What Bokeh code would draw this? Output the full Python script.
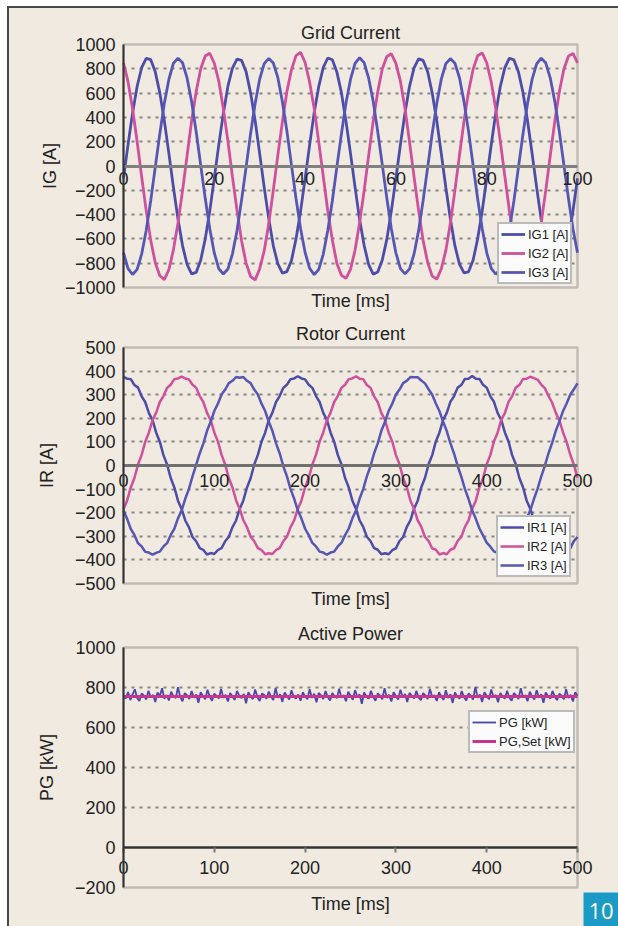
from bokeh.plotting import figure
from bokeh.models import (FixedTicker, Legend, LegendItem, Label, Range1d, BoxAnnotation, Grid)
from bokeh.layouts import column
from bokeh.embed import file_html
from bokeh.resources import INLINE

FONT = "Liberation Sans"
BG = "#f0eae0"
TXT = "#222222"
BLUE1 = "#4d4da8"
BLUE3 = "#5656b4"
PINK = "#d0509c"
PGSET = "#c8368f"

# ---------------- Grid current (ms, A) ----------------
T_GRID = [0, 1, 2, 3, 4, 5, 6, 7, 8, 9, 10, 11, 12, 13, 14, 15, 16, 17, 18, 19,
          20, 21, 22, 23, 24, 25, 26, 27, 28, 29, 30, 31, 32, 33, 34, 35, 36, 37, 38, 39,
          40, 41, 42, 43, 44, 45, 46, 47, 48, 49, 50, 51, 52, 53, 54, 55, 56, 57, 58, 59,
          60, 61, 62, 63, 64, 65, 66, 67, 68, 69, 70, 71, 72, 73, 74, 75, 76, 77, 78, 79,
          80, 81, 82, 83, 84, 85, 86, 87, 88, 89, 90, 91, 92, 93, 94, 95, 96, 97, 98, 99, 100]
IG1 = [-102, 176, 437, 655, 809, 886, 875, 775, 602, 371, 102, -176, -437, -655, -809, -888, -876, -775, -602, -371,
       -100, 178, 435, 657, 806, 880, 870, 777, 600, 373, 100, -178, -435, -657, -806, -882, -869, -777, -600, -373,
       -104, 174, 439, 653, 811, 889, 874, 773, 604, 369, 104, -174, -439, -653, -811, -890, -873, -773, -604, -369,
       -101, 177, 436, 656, 808, 882, 869, 776, 601, 372, 101, -177, -436, -656, -808, -879, -871, -776, -601, -372,
       -103, 175, 438, 654, 810, 887, 873, 774, 603, 370, 103, -175, -438, -654, -810, -885, -874, -774, -603, -370,
       -102]
IG2 = [849, 694, 471, 202, -87, -367, -612, -796, -903, -935, -852, -690, -468, -205, 84, 370, 610, 798, 906, 928,
       846, 697, 468, 205, -90, -364, -615, -799, -910, -938, -845, -697, -474, -199, 90, 364, 615, 793, 909, 935,
       852, 690, 474, 199, -84, -370, -609, -802, -900, -924, -851, -693, -469, -204, 85, 369, 611, 799, 901, 924,
       845, 696, 473, 200, -89, -366, -614, -794, -906, -931, -847, -695, -472, -201, 88, 366, 613, 795, 907, 931,
       850, 692, 470, 203, -86, -368, -611, -797, -904, -926, -850, -691, -470, -203, 86, 368, 612, 797, 904, 927,
       848]
IG3 = [-714, -844, -893, -851, -725, -531, -284, -9, 266, 516, 714, 846, 888, 850, 725, 531, 284, 9, -266, -516,
       -716, -846, -889, -848, -723, -533, -282, -11, 268, 514, 716, 842, 886, 847, 727, 529, 286, 7, -268, -514,
       -712, -842, -894, -852, -727, -529, -286, -7, 264, 518, 712, 845, 891, 851, 723, 533, 282, 11, -264, -518,
       -715, -845, -888, -847, -724, -532, -283, -10, 267, 515, 715, 843, 884, 846, 726, 530, 285, 8, -267, -515,
       -713, -843, -891, -850, -726, -530, -285, -8, 265, 517, 713, 841, 887, 849, 724, 532, 283, 10, -265, -517,
       -714]
IG_TICKS = [-1000, -800, -600, -400, -200, 0, 200, 400, 600, 800, 1000]
IG_TICK_LABELS = ["\u22121000", "\u2212800", "\u2212600", "\u2212400", "\u2212200", "0",
                  "200", "400", "600", "800", "1000"]
TG_TICKS = [0, 20, 40, 60, 80, 100]
TG_TICK_LABELS = ["0", "20", "40", "60", "80", "100"]

# ---------------- Rotor current (ms, A) ----------------
T_ROTOR = [0, 4, 8, 12, 16, 20, 24, 28, 32, 36, 40, 44, 48, 52, 56, 60, 64, 68, 72, 76,
           80, 84, 88, 92, 96, 100, 104, 108, 112, 116, 120, 124, 128, 132, 136, 140, 144, 148, 152, 156,
           160, 164, 168, 172, 176, 180, 184, 188, 192, 196, 200, 204, 208, 212, 216, 220, 224, 228, 232, 236,
           240, 244, 248, 252, 256, 260, 264, 268, 272, 276, 280, 284, 288, 292, 296, 300, 304, 308, 312, 316,
           320, 324, 328, 332, 336, 340, 344, 348, 352, 356, 360, 364, 368, 372, 376, 380, 384, 388, 392, 396,
           400, 404, 408, 412, 416, 420, 424, 428, 432, 436, 440, 444, 448, 452, 456, 460, 464, 468, 472, 476,
           480, 484, 488, 492, 496, 500]
IR1 = [375, 368, 366, 341, 330, 293, 268, 222, 192, 139, 101, 44, 4, -53, -93, -149, -184, -233, -261, -303,
       -321, -350, -358, -377, -371, -375, -358, -350, -321, -302, -261, -233, -184, -148, -93, -54, 4, 45, 101, 139,
       192, 224, 269, 294, 329, 342, 366, 369,
       378, 369, 365, 342, 329, 294, 269, 223, 193, 140, 101, 45, 5, -53, -92, -148, -183, -232, -260, -302,
       -320, -350, -357, -376, -372, -376, -359, -351, -320, -303, -260, -232, -183, -149, -92, -53, 5, 44, 102, 140,
       193, 223, 270, 293, 330, 341, 367, 368,
       379, 368, 367, 342, 330, 293, 270, 223, 193, 140, 102, 44, 5, -53, -92, -149, -183, -232, -260, -303,
       -320, -351, -357, -377, -371, -376, -358, -351, -320, -303]
IR2 = [-186, -148, -93, -53, 4, 45, 101, 140, 192, 224, 269, 294, 329, 342, 366, 369,
       377, 369, 365, 342, 330, 294, 268, 223, 192, 140, 101, 45, 4, -53, -93, -148, -184, -232, -261, -302,
       -321, -350, -358, -376, -372, -375, -358, -350, -321, -302, -261, -232, -184, -148, -93, -53, 4, 45, 101, 140,
       192, 223, 269, 294, 329, 342, 366, 369,
       378, 368, 366, 341, 329, 293, 269, 222, 193, 139, 102, 44, 5, -54, -92, -149, -183, -233, -260, -303,
       -320, -351, -357, -377, -371, -376, -357, -351, -320, -303, -260, -233, -183, -149, -92, -54, 5, 44, 102, 139,
       193, 222, 270, 293, 330, 341, 367, 368,
       376, 370, 364, 343, 328, 295, 267, 224, 191, 141, 100, 46, 3, -52]
IR3 = [-192, -226, -269, -294, -329, -343, -366, -369, -378, -370, -365, -343, -329, -294, -268, -224,
       -191, -141, -100, -46, 3, 52, 94, 147, 185, 231, 262, 301, 322, 349, 359, 375,
       372, 375, 359, 349, 322, 301, 262, 231, 185, 147, 94, 52, -3, -46, -100, -141, -191, -225, -268, -295,
       -328, -343, -365, -369, -378, -369, -365, -343, -328, -295, -268, -225, -191, -141, -100, -46, -3, 52, 94, 147,
       185, 231, 262, 301, 322, 349, 359, 375,
       374, 374, 360, 348, 323, 300, 263, 230, 186, 146, 95, 51, -2, -47, -99, -142, -190, -226, -267, -296,
       -327, -344, -364, -370, -377, -370, -364, -344, -327, -296, -267, -226, -190, -142, -99, -47, -2, 51, 95, 146,
       186, 230, 263, 300, 323, 348]
IR_TICKS = [-500, -400, -300, -200, -100, 0, 100, 200, 300, 400, 500]
IR_TICK_LABELS = ["\u2212500", "\u2212400", "\u2212300", "\u2212200", "\u2212100", "0",
                  "100", "200", "300", "400", "500"]
T5_TICKS = [0, 100, 200, 300, 400, 500]
T5_TICK_LABELS = ["0", "100", "200", "300", "400", "500"]

# ---------------- Active power (ms, kW) ----------------
T_POWER = [0, 2.5, 5, 7.5, 10, 12.5, 15, 17.5, 20, 22.5, 25, 27.5, 30, 32.5, 35, 37.5, 40, 42.5, 45, 47.5,
           50, 52.5, 55, 57.5, 60, 62.5, 65, 67.5, 70, 72.5, 75, 77.5, 80, 82.5, 85, 87.5, 90, 92.5, 95, 97.5,
           100, 102.5, 105, 107.5, 110, 112.5, 115, 117.5, 120, 122.5, 125, 127.5, 130, 132.5, 135, 137.5, 140, 142.5, 145, 147.5,
           150, 152.5, 155, 157.5, 160, 162.5, 165, 167.5, 170, 172.5, 175, 177.5, 180, 182.5, 185, 187.5, 190, 192.5, 195, 197.5,
           200, 202.5, 205, 207.5, 210, 212.5, 215, 217.5, 220, 222.5, 225, 227.5, 230, 232.5, 235, 237.5, 240, 242.5, 245, 247.5,
           250, 252.5, 255, 257.5, 260, 262.5, 265, 267.5, 270, 272.5, 275, 277.5, 280, 282.5, 285, 287.5, 290, 292.5, 295, 297.5,
           300, 302.5, 305, 307.5, 310, 312.5, 315, 317.5, 320, 322.5, 325, 327.5, 330, 332.5, 335, 337.5, 340, 342.5, 345, 347.5,
           350, 352.5, 355, 357.5, 360, 362.5, 365, 367.5, 370, 372.5, 375, 377.5, 380, 382.5, 385, 387.5, 390, 392.5, 395, 397.5,
           400, 402.5, 405, 407.5, 410, 412.5, 415, 417.5, 420, 422.5, 425, 427.5, 430, 432.5, 435, 437.5, 440, 442.5, 445, 447.5,
           450, 452.5, 455, 457.5, 460, 462.5, 465, 467.5, 470, 472.5, 475, 477.5, 480, 482.5, 485, 487.5, 490, 492.5, 495, 497.5,
           500]
PG = [756, 745, 777, 737, 766, 791, 748, 733, 770, 759, 740, 784, 751, 763, 727, 775, 758, 796, 744, 762,
      735, 779, 755, 747, 801, 752, 731, 772, 761, 742, 782, 749, 765, 724, 776, 756, 741, 789, 754, 734,
      769, 758, 745, 793, 748, 763, 730, 773, 755, 738, 783, 759, 747, 768, 721, 777, 756, 742, 790, 751,
      733, 770, 762, 744, 780, 754, 737, 798, 749, 766, 728, 775, 758, 740, 786, 752, 745, 765, 734, 776,
      755, 741, 791, 748, 769, 726, 773, 761, 742, 782, 751, 735, 772, 756, 747, 794, 749, 762, 731, 779,
      758, 738, 787, 754, 765, 719, 775, 755, 744, 784, 752, 734, 770, 759, 741, 797, 748, 763, 730, 777,
      756, 740, 789, 751, 768, 727, 773, 758, 745, 783, 749, 737, 772, 761, 742, 793, 752, 762, 733, 776,
      755, 738, 786, 748, 766, 723, 775, 756, 744, 782, 751, 735, 770, 759, 740, 803, 749, 765, 728, 777,
      758, 741, 790, 752, 763, 726, 773, 755, 745, 784, 748, 734, 772, 761, 742, 796, 751, 762, 731, 779,
      756, 740, 787, 749, 766, 724, 775, 758, 744, 783, 754, 737, 769, 759, 741, 791, 748, 763, 730, 776,
      759]
T_SET = [0, 500]
PG_SET = [755, 755]
PG_TICKS = [-200, 0, 200, 400, 600, 800, 1000]
PG_TICK_LABELS = ["\u2212200", "0", "200", "400", "600", "800", "1000"]

FIG_W = 609
M_LEFT, M_RIGHT = 114, 41   # px between figure edge and plot box


def span(v0, v1, m0, m1, total):
    per = (v1 - v0) / (total - m0 - m1)
    return (v0 - m0 * per, v1 + m1 * per)


def make_fig(h, m_top, m_bot, yr, xr, yticks, ylabels, xticks, xlabels, title, ytitle,
             zero_color, zero_width, tick_out, label_standoff, ylab_standoff, title_y, time_y):
    p = figure(width=FIG_W, height=h,
               x_range=Range1d(*span(xr[0], xr[1], M_LEFT, M_RIGHT, FIG_W)),
               y_range=Range1d(*span(yr[0], yr[1], m_bot, m_top, h)),
               output_backend="svg", toolbar_location=None, min_border=0,
               background_fill_color=BG, border_fill_color=BG, outline_line_color=None)
    # x axis crossing at zero
    xa = p.xaxis[0]
    xa.fixed_location = 0
    xa.bounds = xr
    xa.ticker = FixedTicker(ticks=xticks)
    xa.major_label_overrides = dict(zip(xticks, xlabels))
    xa.axis_line_color = zero_color
    xa.axis_line_width = zero_width
    xa.major_tick_in = 0
    xa.major_tick_out = tick_out
    xa.major_tick_line_color = "#7a7a7a"
    xa.major_tick_line_width = 2
    xa.minor_tick_line_color = None
    xa.major_label_standoff = label_standoff
    xa.major_label_text_font = FONT
    xa.major_label_text_font_size = "18px"
    xa.major_label_text_color = TXT
    # y axis at x = 0
    ya = p.yaxis[0]
    ya.fixed_location = xr[0]
    ya.bounds = yr
    ya.ticker = FixedTicker(ticks=yticks)
    ya.major_label_overrides = dict(zip(yticks, ylabels))
    ya.axis_line_color = "#333333"
    ya.axis_line_width = 2
    ya.major_tick_in = 0
    ya.major_tick_out = 0
    ya.minor_tick_line_color = None
    ya.major_label_standoff = 8
    ya.major_label_text_font = FONT
    ya.major_label_text_font_size = "18px"
    ya.major_label_text_color = TXT
    ya.axis_label = ytitle
    ya.axis_label_text_font = FONT
    ya.axis_label_text_font_size = "18px"
    ya.axis_label_text_font_style = "normal"
    ya.axis_label_text_color = TXT
    ya.axis_label_standoff = ylab_standoff
    # grid
    p.xgrid.visible = False
    inner = [t for t in yticks if t not in (0, yr[0], yr[1])]
    p.ygrid.ticker = FixedTicker(ticks=inner)
    p.ygrid.grid_line_color = "#858585"
    p.ygrid.grid_line_width = 2
    p.ygrid.grid_line_dash = "3 5"
    if "cross_bounds" in Grid.properties():
        p.ygrid.cross_bounds = xr
    else:
        p.ygrid.visible = False
        p.segment(x0=[xr[0]] * len(inner), x1=[xr[1]] * len(inner), y0=inner, y1=inner,
                  line_color="#858585", line_width=2, line_dash="3 5")
    # plot box
    p.add_layout(BoxAnnotation(left=xr[0], right=xr[1], bottom=yr[0], top=yr[1],
                               fill_alpha=0, line_color="#555555", line_width=2.5, level="underlay"))
    # titles
    cx = M_LEFT + (FIG_W - M_LEFT - M_RIGHT) / 2
    p.add_layout(Label(x=cx, y=h - title_y, x_units="screen", y_units="screen", text=title,
                       text_font=FONT, text_font_size="18px", text_color=TXT,
                       text_align="center", text_baseline="middle"))
    p.add_layout(Label(x=cx, y=h - time_y, x_units="screen", y_units="screen", text="Time [ms]",
                       text_font=FONT, text_font_size="18px", text_color=TXT,
                       text_align="center", text_baseline="middle"))
    return p


def add_legend(p, items, loc):
    leg = Legend(items=items, location=loc, margin=0, padding=2, spacing=3,
                 glyph_width=24, glyph_height=16, label_height=16, label_standoff=3,
                 label_text_font=FONT, label_text_font_size="13px", label_text_color=TXT,
                 border_line_color="#7a7a7a", border_line_width=2,
                 background_fill_color="#fbfbfb", background_fill_alpha=1.0)
    p.add_layout(leg)
    return leg


# Figure 1: Grid current
p1 = make_fig(304, 36, 25, (-1000, 1000), (0, 100), IG_TICKS, IG_TICK_LABELS,
              TG_TICKS, TG_TICK_LABELS, "Grid Current", "IG [A]", "#808080", 3, 0, 6, 2, 24, 292)
r11 = p1.line(T_GRID, IG1, line_color=BLUE1, line_width=2.8)
r12 = p1.line(T_GRID, IG2, line_color=PINK, line_width=2.8)
r13 = p1.line(T_GRID, IG3, line_color=BLUE3, line_width=2.8)
add_legend(p1, [LegendItem(label="IG1 [A]", renderers=[r11]),
                LegendItem(label="IG2 [A]", renderers=[r12]),
                LegendItem(label="IG3 [A]", renderers=[r13])], (488, 28))

# Figure 2: Rotor current
p2 = make_fig(300, 35, 29, (-500, 500), (0, 500), IR_TICKS, IR_TICK_LABELS,
              T5_TICKS, T5_TICK_LABELS, "Rotor Current", "IR [A]", "#707070", 3, 0, 8, 15, 21, 286)
r21 = p2.line(T_ROTOR, IR1, line_color=BLUE1, line_width=2.5)
r22 = p2.line(T_ROTOR, IR2, line_color=PINK, line_width=2.5)
r23 = p2.line(T_ROTOR, IR3, line_color=BLUE3, line_width=2.5)
add_legend(p2, [LegendItem(label="IR1 [A]", renderers=[r21]),
                LegendItem(label="IR2 [A]", renderers=[r22]),
                LegendItem(label="IR3 [A]", renderers=[r23])], (487, 35))

# Figure 3: Active power
p3 = make_fig(314, 35, 39, (-200, 1000), (0, 500), PG_TICKS, PG_TICK_LABELS,
              T5_TICKS, T5_TICK_LABELS, "Active Power", "PG [kW]", "#333333", 2.5, 5, 8, 15, 21, 291)
r31 = p3.line(T_POWER, PG, line_color="#4848aa", line_width=1.8)
r32 = p3.line(T_SET, PG_SET, line_color=PGSET, line_width=3)
add_legend(p3, [LegendItem(label="PG [kW]", renderers=[r31]),
                LegendItem(label="PG,Set [kW]", renderers=[r32])], (459, 173))

# figure-number badge
p3.add_layout(BoxAnnotation(left=574, right=609, bottom=0, top=34,
                            left_units="screen", right_units="screen",
                            bottom_units="screen", top_units="screen",
                            fill_color="#1b9ac6", fill_alpha=1, line_color=None))
p3.add_layout(Label(x=591.5, y=16, x_units="screen", y_units="screen", text="10",
                    text_font="Open Sans", text_font_size="22px", text_color="white",
                    text_align="center", text_baseline="middle"))

layout = column(p1, p2, p3, spacing=0,
                styles={"background-color": BG, "border-top": "2px solid #4a4a4a",
                        "border-left": "2px solid #4a4a4a", "margin-top": "6px",
                        "margin-left": "7px"})

open("out.html", "w").write(file_html(layout, INLINE))
